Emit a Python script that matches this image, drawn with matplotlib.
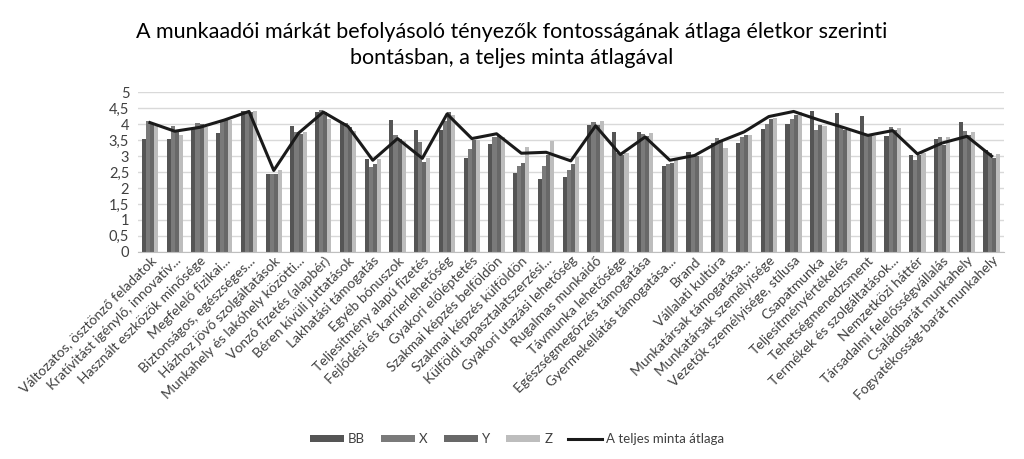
import matplotlib
matplotlib.use("Agg")
import matplotlib.pyplot as plt
import numpy as np

plt.rcParams['font.family'] = ['Lato', 'DejaVu Sans']

categories = [
    "Változatos, ösztönző feladatok",
    "Kratívitást igénylő, innovatív...",
    "Használt eszközök minősége",
    "Megfelelő fizikai...",
    "Biztonságos, egészséges...",
    "Házhoz jövő szolgáltatások",
    "Munkahely és lakóhely közötti...",
    "Vonzó fizetés (alapbér)",
    "Béren kívüli juttatások",
    "Lakhatási támogatás",
    "Egyéb bónuszok",
    "Teljesítmény alapú fizetés",
    "Fejlődési és karrierlehetőség",
    "Gyakori előléptetés",
    "Szakmai képzés belföldön",
    "Szakmai képzés külföldön",
    "Külföldi tapasztalatszerzési...",
    "Gyakori utazási lehetőség",
    "Rugalmas munkaidő",
    "Távmunka lehetősége",
    "Egészségmegőrzés támogatása",
    "Gyermekellátás támogatása...",
    "Brand",
    "Vállalati kultúra",
    "Munkatársak támogatása...",
    "Munkatársak személyisége",
    "Vezetők személyisége, stílusa",
    "Csapatmunka",
    "Teljesítményértékelés",
    "Tehetségmenedzsment",
    "Termékek és szolgáltatások...",
    "Nemzetközi háttér",
    "Társadalmi felelősségvállalás",
    "Családbarát munkahely",
    "Fogyatékosság-barát munkahely",
]

bb = [3.55, 3.55, 3.88, 3.72, 4.40, 2.43, 3.94, 4.38, 4.07, 2.90, 4.14, 3.82,
      3.83, 2.95, 3.39, 2.48, 2.27, 2.36, 3.98, 3.76, 3.75, 2.69, 3.13, 3.41,
      3.41, 3.85, 4.00, 4.40, 4.35, 4.27, 3.62, 3.05, 3.55, 4.07, 3.20]
x_ = [4.09, 3.95, 4.05, 4.09, 4.42, 2.43, 3.76, 4.44, 4.04, 2.66, 3.67, 3.45,
      4.09, 3.23, 3.60, 2.68, 2.68, 2.56, 4.06, 3.10, 3.70, 2.74, 3.00, 3.57,
      3.59, 4.00, 4.17, 3.81, 3.88, 3.67, 3.90, 2.87, 3.59, 3.80, 3.10]
y_ = [4.04, 3.78, 4.00, 4.14, 4.38, 2.45, 3.70, 4.37, 3.90, 2.74, 3.55, 2.82,
      4.38, 3.52, 3.67, 2.79, 3.05, 2.74, 3.98, 3.05, 3.64, 2.79, 3.00, 3.50,
      3.67, 4.17, 4.30, 3.96, 3.83, 3.62, 3.83, 3.02, 3.36, 3.67, 2.95]
z_ = [3.95, 3.65, 3.90, 4.14, 4.40, 2.58, 3.75, 4.17, 3.78, 2.90, 3.47, 2.93,
      4.30, 3.52, 3.60, 3.28, 3.47, 2.98, 4.09, 3.10, 3.73, 2.90, 3.00, 3.24,
      3.67, 4.21, 4.38, 3.93, 3.83, 3.62, 3.88, 3.10, 3.59, 3.75, 3.08]
avg = [4.05, 3.78, 3.90, 4.13, 4.40, 2.55, 3.72, 4.38, 3.93, 2.87, 3.55, 2.93,
       4.32, 3.55, 3.70, 3.09, 3.12, 2.85, 3.95, 3.05, 3.60, 2.87, 3.02, 3.45,
       3.76, 4.24, 4.40, 4.14, 3.90, 3.65, 3.80, 3.07, 3.41, 3.62, 3.00]

series_names = ["BB", "X", "Y", "Z"]
series_vals = [bb, x_, y_, z_]
colors = ["#555555", "#7a7a7a", "#686868", "#bdbdbd"]

title = ("A munkaadói márkát befolyásoló tényezők fontosságának átlaga életkor szerinti\n"
         "bontásban, a teljes minta átlagával")

fig = plt.figure(figsize=(10.24, 4.59), dpi=100)
ax = fig.add_axes([0.1344, 0.4514, 0.8461, 0.3475])

n = len(categories)
xs = np.arange(n)
w = 0.165
handles = []
for i, (name, vals, c) in enumerate(zip(series_names, series_vals, colors)):
    h = ax.bar(xs + (i - 1.5) * w, vals, width=w, color=c, label=name, zorder=2)
    handles.append(h)
ln, = ax.plot(xs, avg, color="#1a1a1a", linewidth=2.2, label="A teljes minta átlaga", zorder=3)
handles.append(ln)

ax.set_xlim(-0.5, n - 0.5)
ax.set_ylim(0, 5)
yt = np.arange(0, 5.01, 0.5)
ax.set_yticks(yt)
ax.set_yticklabels([("%g" % v).replace(".", ",") for v in yt], fontsize=10.5, color="#404040")
ax.yaxis.grid(True, color="#d9d9d9", linewidth=1, zorder=0)
ax.set_axisbelow(True)
for s in ["top", "right", "left"]:
    ax.spines[s].set_visible(False)
ax.spines["bottom"].set_color("#bfbfbf")
ax.tick_params(axis="y", length=0, pad=6)
ax.tick_params(axis="x", length=0, pad=2)
ax.set_xticks(xs)
ax.set_xticklabels(categories, rotation=45, ha="right", rotation_mode="anchor",
                   fontsize=10, color="#404040")

fig.text(0.5, 0.902, title, ha="center", va="center", fontsize=15.5,
         color="#000000", linespacing=1.4)

fig.legend(handles=handles, labels=series_names + ["A teljes minta átlaga"],
           loc="center", bbox_to_anchor=(0.505, 0.043), ncol=5, frameon=False,
           fontsize=9.5, handlelength=2.6, handleheight=0.5, columnspacing=1.2,
           handletextpad=0.3, labelcolor="#404040")

fig.savefig("out.png", dpi=100)
